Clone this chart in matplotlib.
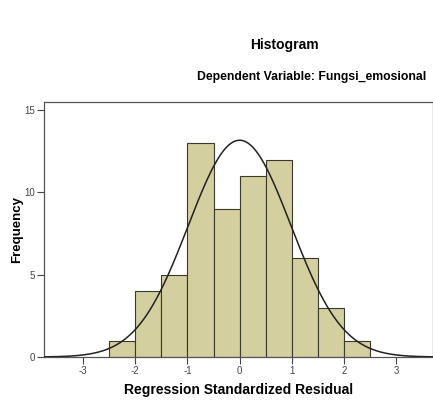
import numpy as np
import matplotlib
matplotlib.use("Agg")
import matplotlib.pyplot as plt

bin_edges = [-2.5, -2.0, -1.5, -1.0, -0.5, 0.0, 0.5, 1.0, 1.5, 2.0, 2.5]
frequencies = [1, 4, 5, 13, 9, 11, 12, 6, 3, 1]
curve_mean = 0.0
curve_sd = 0.984
n_obs = sum(frequencies)
x_ticks = [-3, -2, -1, 0, 1, 2, 3]
y_ticks = [0, 5, 10, 15]

plt.rcParams['font.family'] = ['Liberation Sans', 'DejaVu Sans']

fig = plt.figure(figsize=(4.33, 4.01), dpi=100)
ax = fig.add_axes([44/433, 1-357/401, 1-44/433, (357-102)/401])

widths = np.diff(bin_edges)
ax.bar(bin_edges[:-1], frequencies, width=widths, align='edge',
       color='#D4CF9E', edgecolor='#3a3a2a', linewidth=0.8, zorder=2)

xs = np.linspace(-3.75, 3.75, 400)
bw = widths[0]
ys = n_obs * bw / (curve_sd * np.sqrt(2*np.pi)) * np.exp(-0.5*((xs-curve_mean)/curve_sd)**2)
ax.plot(xs, ys, color='#222222', linewidth=1.1, zorder=3)

ax.set_xlim(-3.75, (433-239.5)/52.2)
ax.set_ylim(0, 15.5)
ax.set_xticks(x_ticks)
ax.set_xticklabels([str(t) for t in x_ticks])
ax.set_yticks(y_ticks)
ax.tick_params(axis='both', labelsize=7, colors='#444444', length=5, width=0.8, pad=1.5)
for s in ['left', 'bottom', 'top', 'right']:
    ax.spines[s].set_color('#555555')
    ax.spines[s].set_linewidth(0.9)

ax.set_xlabel('Regression Standardized Residual', fontsize=10, fontweight='bold', labelpad=5)
ax.set_ylabel('Frequency', fontsize=9.5, fontweight='bold', labelpad=1)

fig.text(284/433, 1-45/401, 'Histogram', ha='center', va='center', fontsize=10, fontweight='bold')
fig.text(312/433, 1-77/401, 'Dependent Variable: Fungsi_emosional', ha='center', va='center',
         fontsize=8.8, fontweight='bold')

fig.savefig('out.png', dpi=100)
